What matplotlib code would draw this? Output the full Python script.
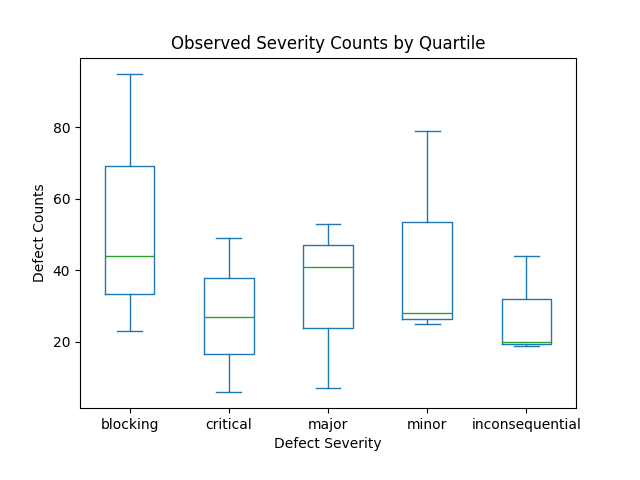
import matplotlib
matplotlib.use("Agg")
import matplotlib.pyplot as plt
import pandas as pd

categories = ["blocking", "critical", "major", "minor", "inconsequential"]
blocking = [23, 33.5, 44, 69.25, 95]
critical = [6, 16.75, 27, 37.75, 49]
major = [7, 24, 41, 47, 53]
minor = [25, 26.5, 28, 53.5, 79]
inconsequential = [19, 19.5, 20, 32, 44]

df = pd.DataFrame({
    categories[0]: blocking,
    categories[1]: critical,
    categories[2]: major,
    categories[3]: minor,
    categories[4]: inconsequential,
})

fig, ax = plt.subplots(figsize=(6.4, 4.8), dpi=100)
fig.subplots_adjust(bottom=0.15)
df.plot(kind="box", ax=ax)
ax.set_title("Observed Severity Counts by Quartile")
ax.set_xlabel("Defect Severity")
ax.set_ylabel("Defect Counts")
fig.savefig("out.png", dpi=100)
